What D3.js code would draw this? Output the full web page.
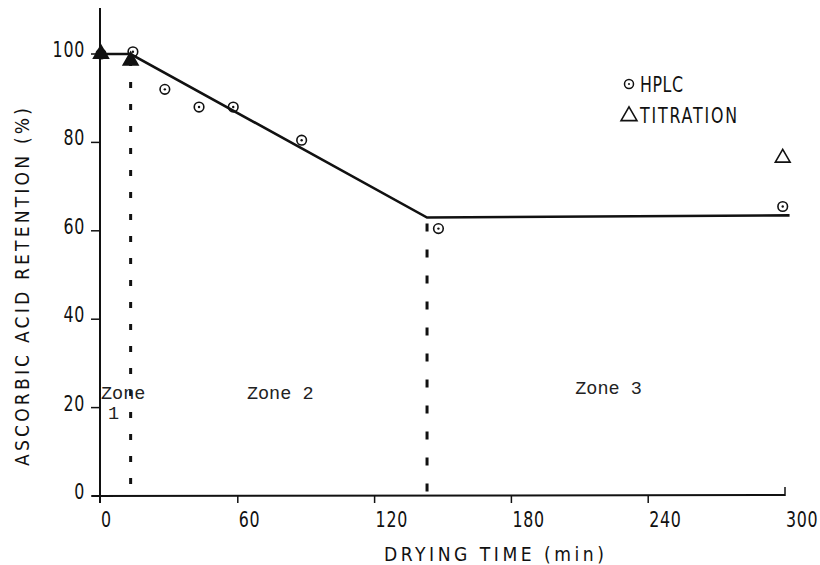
<!DOCTYPE html>
<html>
<head>
<meta charset="utf-8">
<script src="https://cdn.jsdelivr.net/npm/d3@7/dist/d3.min.js"></script>
<style>
  html, body { margin: 0; padding: 0; background: #fff; }
  svg { display: block; }
  .lbl { font-family: "DejaVu Sans", sans-serif; fill: #111; }
  .zone { font-family: "Liberation Mono", "DejaVu Sans Mono", monospace; fill: #222; }
</style>
</head>
<body>
<svg id="chart" width="820" height="565"></svg>
<script>
// Ascorbic acid retention during drying
const hplcTime  = [0, 14, 28, 43, 58, 88, 148, 299];
const hplcValue = [100, 100.5, 92, 88, 88, 80.5, 60.5, 65.5];
const titrTime  = [0, 13, 299];
const titrValue = [100, 98.5, 76.5];
const fitTime   = [0, 13, 143, 302];
const fitValue  = [100, 100, 63, 63.5];
const zoneBreaks = [13, 143];
const xTicks = [0, 60, 120, 180, 240, 300];
const yTicks = [0, 20, 40, 60, 80, 100];
const zoneLabels = [
  { lines: ["Zone", "1"], t: 0, v: 22 },
  { lines: ["Zone 2"], t: 64, v: 22 },
  { lines: ["Zone 3"], t: 208, v: 23 }
];
const legendItems = ["HPLC", "TITRATION"];

const svg = d3.select("#chart");
const x = d3.scaleLinear().domain([0, 300]).range([101, 785]);
const y = d3.scaleLinear().domain([0, 100]).range([496, 54]);

// condensed label: text squeezed horizontally around its anchor point;
// an optional length spreads the letters to span that many pixels
function label(g, px, py, str, opts = {}) {
  const size = opts.size || 22, sx = opts.sx || 0.72, anchor = opts.anchor || "start";
  const t = g.append("text").attr("class", "lbl")
    .attr("transform", `translate(${px},${py}) ${opts.rotate ? "rotate(" + opts.rotate + ")" : ""} scale(${sx},1)`)
    .attr("text-anchor", anchor).attr("font-size", size)
    .attr("letter-spacing", opts.ls || 0).text(str);
  if (opts.len) t.attr("letter-spacing", null).attr("textLength", opts.len / sx).attr("lengthAdjust", "spacing");
  return t;
}

// axes
svg.append("line").attr("x1", x(0) - 1).attr("x2", x(0) - 1)
  .attr("y1", 8).attr("y2", y(0) + 7).attr("stroke", "#111").attr("stroke-width", 2);
svg.append("line").attr("x1", x(0) - 9).attr("x2", x(300))
  .attr("y1", y(0)).attr("y2", y(0) - 1).attr("stroke", "#111").attr("stroke-width", 2);

// y ticks
yTicks.forEach(v => {
  svg.append("line").attr("x1", x(0) - 10).attr("x2", x(0) - 1)
    .attr("y1", y(v)).attr("y2", y(v)).attr("stroke", "#111").attr("stroke-width", 1.5);
  label(svg, x(0) - 16, y(v) + 3, v, { anchor: "end", ls: 1 });
});

// x ticks
xTicks.forEach(t => {
  if (t > 0 && t < 300) {
    svg.append("line").attr("x1", x(t)).attr("x2", x(t))
      .attr("y1", y(0)).attr("y2", y(0) + 7).attr("stroke", "#111").attr("stroke-width", 1.5);
  }
  label(svg, x(t) + (t === 0 ? 0 : 1), y(0) + 31, t, { ls: 1 });
});
svg.append("line").attr("x1", x(300)).attr("x2", x(300))
  .attr("y1", y(0) - 9).attr("y2", y(0)).attr("stroke", "#111").attr("stroke-width", 1.5);

// axis titles
label(svg, 494, 561, "DRYING TIME (min)", { anchor: "middle", size: 20, sx: 0.86, len: 220 });
label(svg, 29, 287, "ASCORBIC ACID RETENTION (%)", { anchor: "middle", size: 20, sx: 0.86, len: 358, rotate: -90 });

// zone boundaries
zoneBreaks.forEach((t, i) => {
  const top = y(d3.scaleLinear().domain(fitTime).range(fitValue)(t));
  svg.append("line").attr("x1", x(t)).attr("x2", x(t))
    .attr("y1", top + 6).attr("y2", y(0))
    .attr("stroke", "#111").attr("stroke-width", 3)
    .attr("stroke-dasharray", i === 0 ? "6,16" : "8,18");
});

// fitted line
const line = d3.line().x(d => x(d[0])).y(d => y(d[1]));
svg.append("path").datum(fitTime.map((t, i) => [t, fitValue[i]]))
  .attr("d", line).attr("fill", "none").attr("stroke", "#111").attr("stroke-width", 2.6);

// zone labels
zoneLabels.forEach(z => {
  z.lines.forEach((s, k) => {
    svg.append("text").attr("class", "zone")
      .attr("x", x(z.t) + (k > 0 ? 7 : 0)).attr("y", y(z.v) + k * 20)
      .attr("font-size", 18.5).text(s);
  });
});

// HPLC points
const hplc = svg.append("g");
hplcTime.forEach((t, i) => {
  hplc.append("circle").attr("cx", x(t)).attr("cy", y(hplcValue[i])).attr("r", 4.8)
    .attr("fill", "none").attr("stroke", "#111").attr("stroke-width", 1.6);
  hplc.append("circle").attr("cx", x(t)).attr("cy", y(hplcValue[i])).attr("r", 1.2).attr("fill", "#111");
});

// titration points
const tri = d3.symbol().type(d3.symbolTriangle).size(95);
titrTime.forEach((t, i) => {
  svg.append("path").attr("d", tri)
    .attr("transform", `translate(${x(t)},${y(titrValue[i])})`)
    .attr("fill", i < 2 ? "#111" : "none").attr("stroke", "#111").attr("stroke-width", 1.6);
});

// legend
const lg = svg.append("g");
lg.append("circle").attr("cx", 629).attr("cy", 84).attr("r", 4.5)
  .attr("fill", "none").attr("stroke", "#111").attr("stroke-width", 1.5);
lg.append("circle").attr("cx", 629).attr("cy", 84).attr("r", 1).attr("fill", "#111");
label(lg, 640, 92, legendItems[0], { len: 43 });
lg.append("path").attr("d", d3.symbol().type(d3.symbolTriangle).size(110))
  .attr("transform", "translate(629,116)")
  .attr("fill", "none").attr("stroke", "#111").attr("stroke-width", 1.6);
label(lg, 640, 123, legendItems[1], { len: 97 });
</script>
</body>
</html>
